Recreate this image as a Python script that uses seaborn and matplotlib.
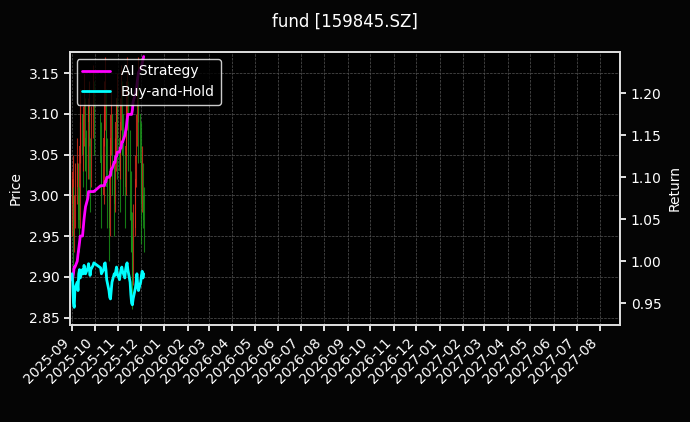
import numpy as np
import pandas as pd
import matplotlib
matplotlib.use("Agg")
import matplotlib.pyplot as plt
import matplotlib.dates as mdates
import seaborn as sns

sns.set_theme(style="dark")
plt.rcParams['font.family'] = ['DejaVu Sans']

days = pd.bdate_range("2025-09-01", "2025-12-05")
days = days[~((days >= "2025-10-01") & (days <= "2025-10-08"))]

close = [2.99, 3.02, 2.95, 2.97, 3.01, 3.04, 3.00, 2.97, 3.06, 3.10, 3.05, 3.08, 3.12, 3.07, 3.03, 3.09,
         3.11, 3.06, 3.02, 3.08, 3.13, 3.10, 3.04, 3.00, 3.07, 3.11, 3.14, 3.08, 3.01, 2.96, 3.03, 3.07,
         3.10, 3.05, 2.99, 3.04, 3.09, 3.12, 3.07, 3.03, 3.09, 3.13, 3.10, 3.05, 3.01, 3.06, 3.11, 3.14,
         3.09, 3.03, 2.98, 2.93, 2.90, 2.96, 3.02, 3.07, 3.11, 3.15, 3.10, 3.04, 2.99, 3.03, 3.00, 2.97]
high = [3.03, 3.05, 3.01, 3.00, 3.04, 3.07, 3.04, 3.01, 3.09, 3.13, 3.10, 3.11, 3.15, 3.12, 3.08, 3.12,
        3.14, 3.11, 3.07, 3.11, 3.16, 3.14, 3.09, 3.05, 3.10, 3.14, 3.17, 3.13, 3.07, 3.02, 3.06, 3.10,
        3.13, 3.10, 3.04, 3.07, 3.12, 3.15, 3.12, 3.08, 3.12, 3.16, 3.14, 3.10, 3.05, 3.09, 3.14, 3.17,
        3.14, 3.08, 3.03, 2.98, 2.95, 2.99, 3.05, 3.10, 3.14, 3.17, 3.15, 3.09, 3.04, 3.06, 3.04, 3.01]
low = [2.95, 2.97, 2.91, 2.93, 2.96, 2.99, 2.96, 2.93, 2.96, 3.04, 3.01, 3.03, 3.06, 3.03, 2.99, 3.02,
       3.06, 3.02, 2.98, 3.01, 3.07, 3.05, 3.00, 2.96, 2.99, 3.06, 3.08, 3.03, 2.96, 2.92, 2.95, 3.02,
       3.05, 3.00, 2.95, 2.98, 3.03, 3.07, 3.02, 2.98, 3.02, 3.08, 3.05, 3.00, 2.96, 3.00, 3.05, 3.08,
       3.03, 2.97, 2.93, 2.88, 2.86, 2.89, 2.95, 3.01, 3.06, 3.09, 3.04, 2.99, 2.94, 2.98, 2.96, 2.93]

ai_ret = [0.978, 0.980, 0.985, 0.993, 0.993, 1.000, 1.008, 1.015, 1.022, 1.030, 1.030, 1.040, 1.050, 1.058,
          1.065, 1.075, 1.083, 1.083, 1.083, 1.083, 1.083, 1.083, 1.090, 1.090, 1.090, 1.090, 1.095, 1.095,
          1.100, 1.100, 1.102, 1.102, 1.110, 1.110, 1.118, 1.118, 1.125, 1.125, 1.130, 1.130, 1.135, 1.135,
          1.142, 1.142, 1.150, 1.155, 1.160, 1.168, 1.175, 1.175, 1.175, 1.175, 1.180, 1.190, 1.200, 1.204,
          1.210, 1.218, 1.225, 1.230, 1.232, 1.236, 1.240, 1.244]
bh_ret = [0.985, 0.975, 0.950, 0.945, 0.968, 0.975, 0.965, 0.985, 0.990, 0.980, 0.990, 0.985, 0.995, 0.990,
          0.985, 0.992, 0.997, 0.990, 0.983, 0.990, 0.995, 0.998, 0.992, 0.985, 0.990, 0.997, 0.998, 0.990,
          0.978, 0.965, 0.957, 0.955, 0.965, 0.975, 0.985, 0.983, 0.988, 0.993, 0.985, 0.978, 0.985, 0.990,
          0.993, 0.988, 0.980, 0.990, 0.995, 0.998, 0.990, 0.975, 0.960, 0.950, 0.948, 0.955, 0.968, 0.975,
          0.985, 0.972, 0.965, 0.975, 0.983, 0.988, 0.980, 0.985]

opn = [close[0] - 0.01] + close[:-1]
df = pd.DataFrame({"date": days, "open": opn, "high": high, "low": low, "close": close,
                   "ai": ai_ret, "bh": bh_ret})

fig = plt.figure(figsize=(6.9, 4.22), dpi=100, facecolor="#050505")
ax = fig.add_axes([0.101, 0.230, 0.798, 0.647])
ax.set_facecolor("black")
up = df["close"] >= df["open"]
cols = np.where(up, "#e0301e", "#1a9a1a")
ax.vlines(df["date"], df["low"], df["high"], colors=cols, linewidth=0.8, alpha=0.8)
ax.bar(df["date"], (df["close"] - df["open"]).abs().clip(lower=0.003),
       bottom=np.minimum(df["open"], df["close"]), width=0.7, color=cols, alpha=0.8, linewidth=0)
ax.set_ylim(2.841, 3.176)
ax.set_ylabel("Price", color="white", fontsize=10)

ax2 = ax.twinx()
sns.lineplot(data=df, x="date", y="ai", ax=ax2, color="magenta", linewidth=2, label="AI Strategy")
sns.lineplot(data=df, x="date", y="bh", ax=ax2, color="cyan", linewidth=2, label="Buy-and-Hold")
ax2.set_ylim(0.924, 1.2495)
ax2.set_ylabel("Return", color="white", fontsize=10)
ax2.set_xlabel("")

ax.set_xlim(pd.Timestamp("2025-08-29"), pd.Timestamp("2027-08-28"))
ax.xaxis.set_major_locator(mdates.MonthLocator())
ax.xaxis.set_major_formatter(mdates.DateFormatter("%Y-%m"))
for lbl in ax.get_xticklabels():
    lbl.set_rotation(45); lbl.set_ha("right")
ax.grid(True, color="#555555", linestyle="--", linewidth=0.5)
for a in (ax, ax2):
    a.tick_params(colors="white", labelsize=10, length=4)
    for s in a.spines.values():
        s.set_color("#dddddd")
ax.tick_params(axis="both", which="both", bottom=True, left=True)
ax2.tick_params(axis="y", right=True)

leg = ax2.legend(loc="upper left", facecolor="black", edgecolor="white", fontsize=10)
for t in leg.get_texts():
    t.set_color("white")
fig.suptitle("fund [159845.SZ]", color="white", fontsize=12, y=0.97)
fig.savefig("out.png", dpi=100, facecolor=fig.get_facecolor())
